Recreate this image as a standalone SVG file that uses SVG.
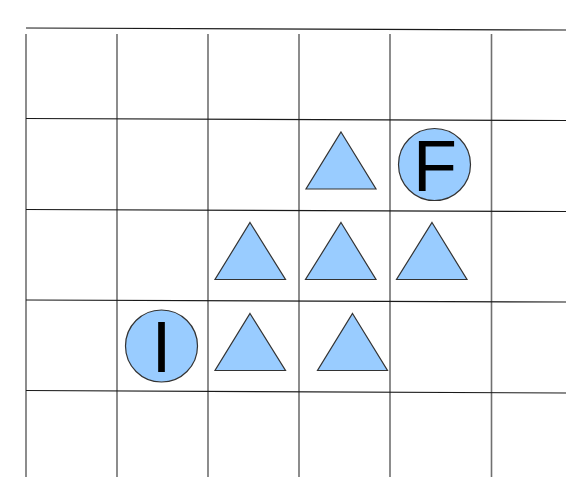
<svg xmlns="http://www.w3.org/2000/svg" width="566" height="477" viewBox="0 0 566 477">
<style>
.h{stroke:#1a1a1a;stroke-width:1.2;fill:none}
.v{stroke:#707070;stroke-width:1.6;fill:none}
.sh{fill:#99ccff;stroke:#333;stroke-width:1.2}
.t{font-family:"Liberation Sans",Arial,sans-serif;font-size:72px;fill:#000;text-anchor:middle}
</style>
<rect width="566" height="477" fill="#fff"/>
<g id="grid">
<line class="v" x1="26" y1="34" x2="26" y2="477"/>
<line class="v" x1="117" y1="34" x2="117" y2="477"/>
<line class="v" x1="208" y1="34" x2="208" y2="477"/>
<line class="v" x1="299" y1="34" x2="299" y2="477"/>
<line class="v" x1="390" y1="34" x2="390" y2="477"/>
<line class="v" x1="491.5" y1="34" x2="491.5" y2="477"/>
<line class="h" x1="26" y1="28" x2="566" y2="30"/>
<line class="h" x1="26" y1="118.5" x2="566" y2="120.5"/>
<line class="h" x1="26" y1="209.5" x2="566" y2="211.5"/>
<line class="h" x1="26" y1="300" x2="566" y2="302"/>
<line class="h" x1="26" y1="390.5" x2="566" y2="393"/>
</g>
<g id="tri1"><polygon class="sh" points="341,132 376,189 306,189"/></g>
<g id="F"><circle class="sh" cx="434.5" cy="164.5" r="36"/><text class="t" x="435" y="190.5">F</text></g>
<g id="tri2"><polygon class="sh" points="250,222.5 285.5,279.5 215,279.5"/></g>
<g id="tri3"><polygon class="sh" points="341,222.5 376,279.5 305.5,279.5"/></g>
<g id="tri4"><polygon class="sh" points="432,222.5 467,279.5 396.5,279.5"/></g>
<g id="I"><circle class="sh" cx="161.5" cy="346" r="36"/><text class="t" x="161.5" y="371.5">I</text></g>
<g id="tri5"><polygon class="sh" points="250,313.5 285.5,370.5 215,370.5"/></g>
<g id="tri6"><polygon class="sh" points="352.5,313.5 387.5,370.5 317.5,370.5"/></g>
</svg>
